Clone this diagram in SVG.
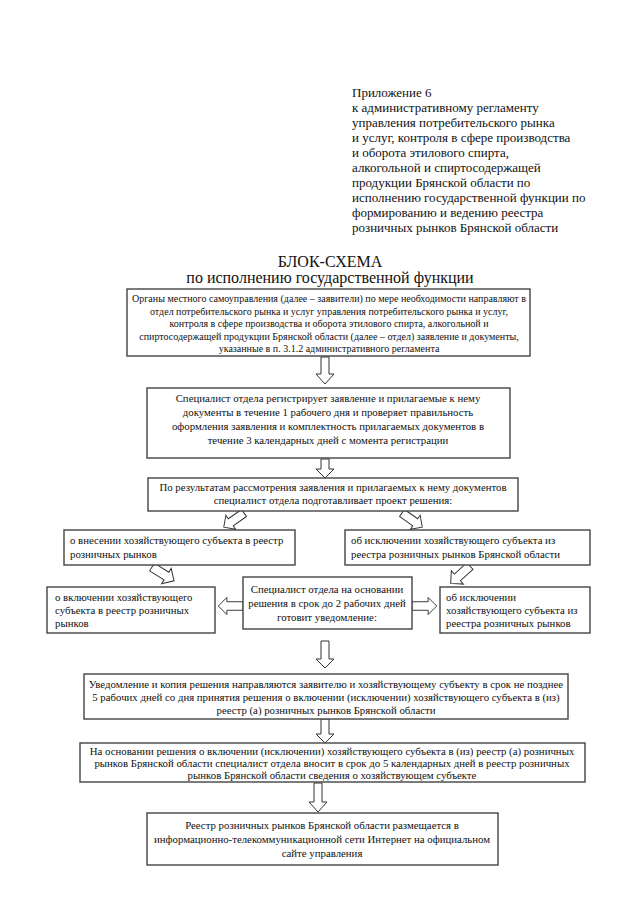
<svg xmlns="http://www.w3.org/2000/svg" width="640" height="905" viewBox="0 0 640 905">
<style>
text{font-family:"Liberation Serif","Times New Roman",serif;fill:#111}
.hd{font-size:13px}
.tt{font-size:16px;text-anchor:middle}
.t{font-size:10.8px}
.s{font-size:10px}
.c{text-anchor:middle}
.box{fill:#fff;stroke:#444;stroke-width:1.4}
.ar{fill:#fff;stroke:#333;stroke-width:1}
</style>
<defs>
<path id="arr" d="M0,-4.5 H17 V-9 L26,0 L17,9 V4.5 H0 Z"/>
</defs>
<rect width="640" height="905" fill="#fff"/>
<g id="header">
<text class="hd" x="352" y="97">Приложение 6</text>
<text class="hd" x="352" y="112">к административному регламенту</text>
<text class="hd" x="352" y="127">управления потребительского рынка</text>
<text class="hd" x="352" y="142">и услуг, контроля в сфере производства</text>
<text class="hd" x="352" y="157">и оборота этилового спирта,</text>
<text class="hd" x="352" y="172">алкогольной и спиртосодержащей</text>
<text class="hd" x="352" y="187">продукции Брянской области по</text>
<text class="hd" x="352" y="202">исполнению государственной функции по</text>
<text class="hd" x="352" y="217">формированию и ведению реестра</text>
<text class="hd" x="352" y="232">розничных рынков Брянской области</text>
</g>
<g id="title">
<text class="tt" x="330" y="267">БЛОК-СХЕМА</text>
<text class="tt" x="330" y="283">по исполнению государственной функции</text>
</g>
<g id="connectors">
<path class="ar" d="M321,357 V374 H316 L325,384 L334,374 H329 V357 Z"/>
<path class="ar" d="M321,459 V469 H316 L325,478 L334,469 H329 V459 Z"/>
<use href="#arr" class="ar" transform="translate(244,513) rotate(145) scale(0.95)"/>
<use href="#arr" class="ar" transform="translate(402,513) rotate(35) scale(0.95)"/>
<use href="#arr" class="ar" transform="translate(152,567) rotate(32)"/>
<use href="#arr" class="ar" transform="translate(470,566) rotate(138)"/>
<use href="#arr" class="ar" transform="translate(243,606) rotate(180) scale(0.95)"/>
<use href="#arr" class="ar" transform="translate(412,606) scale(0.95)"/>
<path class="ar" d="M321,641 V659 H316 L325,668 L334,659 H329 V641 Z"/>
<path class="ar" d="M321,719 V734 H316 L325,743 L334,734 H329 V719 Z"/>
<path class="ar" d="M314,783 V802 H309 L318,812 L327,802 H322 V783 Z"/>
</g>
<g id="n1">
<rect class="box" x="127" y="289" width="403" height="67"/>
<text class="s c" x="329" y="302">Органы местного самоуправления (далее – заявители) по мере необходимости направляют в</text>
<text class="s c" x="329" y="314.5">отдел потребительского рынка и услуг управления потребительского рынка и услуг,</text>
<text class="s c" x="329" y="327">контроля в сфере производства и оборота этилового спирта, алкогольной и</text>
<text class="s c" x="329" y="339.5">спиртосодержащей продукции Брянской области (далее – отдел) заявление и документы,</text>
<text class="s c" x="329" y="352">указанные в п. 3.1.2 административного регламента</text>
</g>
<g id="n2">
<rect class="box" x="147" y="388" width="363" height="70"/>
<text class="t c" x="328" y="402">Специалист отдела регистрирует заявление и прилагаемые к нему</text>
<text class="t c" x="328" y="416">документы в течение 1 рабочего дня и проверяет правильность</text>
<text class="t c" x="328" y="430">оформления заявления и комплектность прилагаемых документов в</text>
<text class="t c" x="328" y="444">течение 3 календарных дней с момента регистрации</text>
</g>
<g id="n3">
<rect class="box" x="148" y="478" width="370" height="33"/>
<text class="t c" x="333" y="491">По результатам рассмотрения заявления и прилагаемых к нему документов</text>
<text class="t c" x="333" y="504">специалист отдела подготавливает проект решения:</text>
</g>
<g id="n4">
<rect class="box" x="64" y="530" width="231" height="35"/>
<text class="t" x="70" y="544">о внесении хозяйствующего субъекта в реестр</text>
<text class="t" x="70" y="558">розничных рынков</text>
</g>
<g id="n5">
<rect class="box" x="345" y="530" width="245" height="35"/>
<text class="t" x="351" y="544">об исключении хозяйствующего субъекта из</text>
<text class="t" x="351" y="558">реестра розничных рынков Брянской области</text>
</g>
<g id="n6">
<rect class="box" x="47" y="587" width="168" height="46"/>
<text class="t" x="55" y="601">о включении хозяйствующего</text>
<text class="t" x="55" y="614">субъекта в реестр розничных</text>
<text class="t" x="55" y="627">рынков</text>
</g>
<g id="n7">
<rect class="box" x="243" y="577" width="169" height="52"/>
<text class="t c" x="327" y="593">Специалист отдела на основании</text>
<text class="t c" x="327" y="607">решения в срок до 2 рабочих дней</text>
<text class="t c" x="327" y="621">готовит уведомление:</text>
</g>
<g id="n8">
<rect class="box" x="440" y="587" width="150" height="46"/>
<text class="t" x="446" y="601">об исключении</text>
<text class="t" x="446" y="614">хозяйствующего субъекта из</text>
<text class="t" x="446" y="627">реестра розничных рынков</text>
</g>
<g id="n9">
<rect class="box" x="84" y="674" width="484" height="45"/>
<text class="t c" x="326" y="688">Уведомление и копия решения направляются заявителю и хозяйствующему субъекту в срок не позднее</text>
<text class="t c" x="326" y="701">5 рабочих дней со дня принятия решения о включении (исключении) хозяйствующего субъекта в (из)</text>
<text class="t c" x="326" y="714">реестр (а) розничных рынков Брянской области</text>
</g>
<g id="n10">
<rect class="box" x="80" y="743" width="505" height="39"/>
<text class="t c" x="332" y="755">На основании решения о включении (исключении) хозяйствующего субъекта в (из) реестр (а) розничных</text>
<text class="t c" x="332" y="767">рынков Брянской области специалист отдела вносит в срок до 5 календарных дней в реестр розничных</text>
<text class="t c" x="332" y="779">рынков Брянской области сведения о хозяйствующем субъекте</text>
</g>
<g id="n11">
<rect class="box" x="147" y="813" width="351" height="52"/>
<text class="t c" x="322" y="829">Реестр розничных рынков Брянской области размещается в</text>
<text class="t c" x="322" y="843">информационно-телекоммуникационной сети Интернет на официальном</text>
<text class="t c" x="322" y="857">сайте управления</text>
</g>
</svg>
